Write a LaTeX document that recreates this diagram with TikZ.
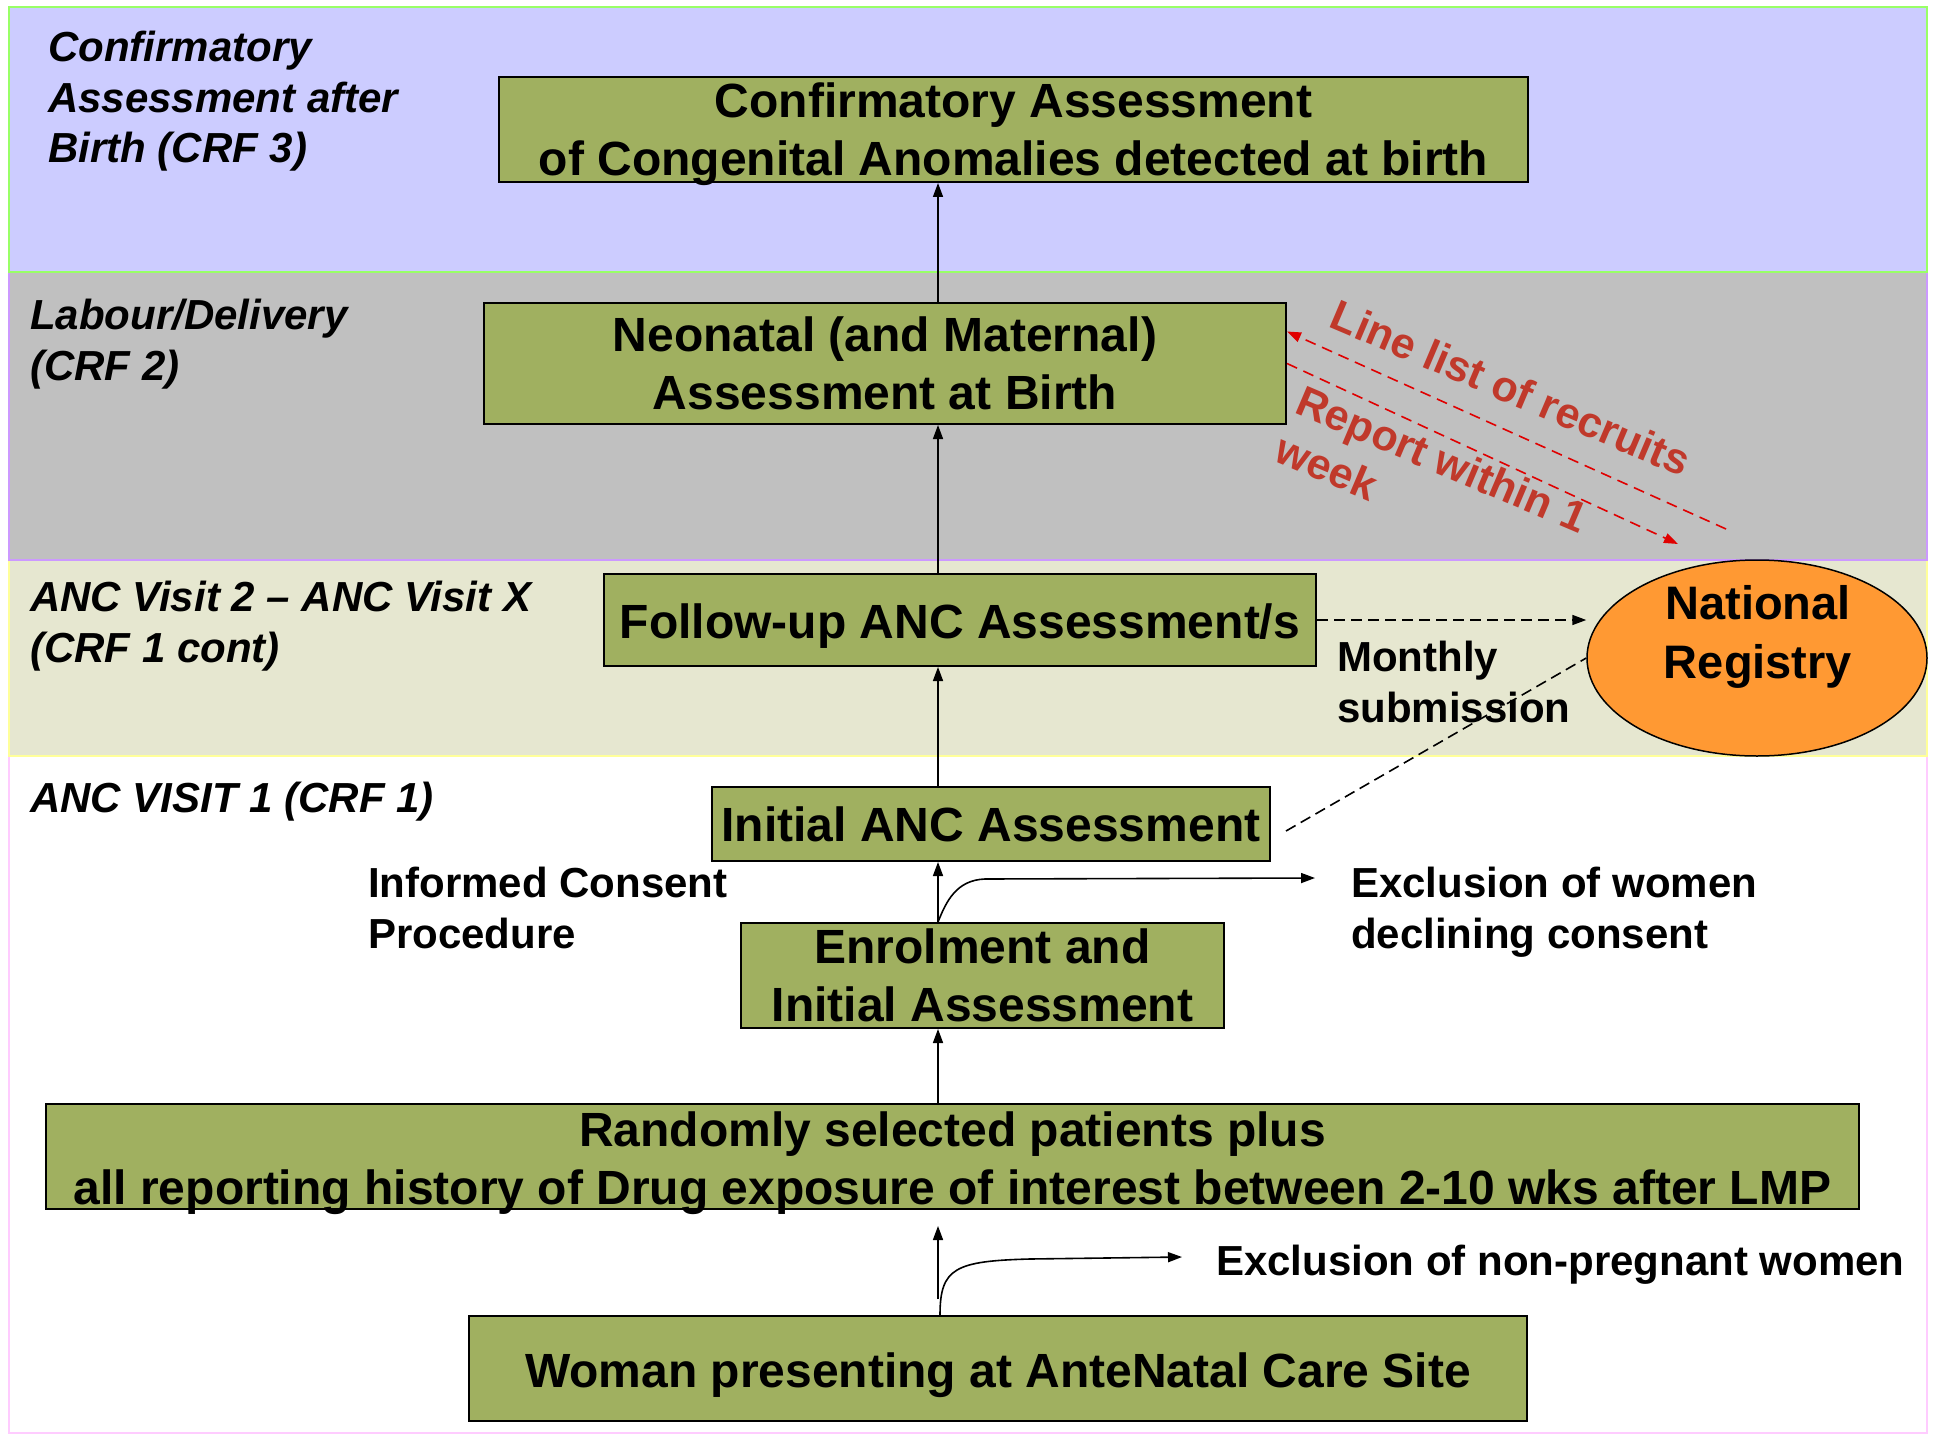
\documentclass[tikz,border=0pt]{standalone}
\usepackage{fontspec}
\setmainfont{Liberation Sans}
\usetikzlibrary{arrows.meta,shapes.geometric,calc}
\definecolor{lav}{HTML}{CCCCFF}
\definecolor{lavline}{HTML}{99FF66}
\definecolor{grayband}{HTML}{C0C0C0}
\definecolor{grayline}{HTML}{CC99FF}
\definecolor{khaki}{HTML}{E6E7D0}
\definecolor{khakiline}{HTML}{FFFF99}
\definecolor{pinkline}{HTML}{FFCCFF}
\definecolor{olive}{HTML}{A0B060}
\definecolor{orng}{HTML}{FF9933}
\definecolor{redtxt}{HTML}{C0392B}
\definecolor{redline}{HTML}{E00000}
\begin{document}
\begin{tikzpicture}[x=1pt,y=1pt,
  boxtext/.style={align=center, font=\fontsize{48}{58}\selectfont\bfseries, inner sep=0pt},
  box/.style={draw=black, line width=2pt, fill=olive, boxtext},
  lbl/.style={align=left, anchor=north west, inner sep=0pt,
    font=\fontsize{42}{50.6}\selectfont\bfseries\itshape},
  note/.style={align=left, anchor=north west, inner sep=0pt,
    font=\fontsize{42}{51}\selectfont\bfseries},
  arr/.style={line width=1.6pt, -{Triangle[length=14pt,width=10pt]}},
  dsh/.style={line width=1.6pt, dash pattern=on 11pt off 6pt},
  rdsh/.style={draw=redline, line width=1.6pt, dash pattern=on 11pt off 7pt},
  redlbl/.style={text=redtxt, font=\fontsize{43}{52}\selectfont\bfseries,
    inner sep=0pt, rotate=-23, align=left}]

\useasboundingbox (0,0) rectangle (1937,-1439);
\fill[white] (0,0) rectangle (1937,-1439);

% bands
\draw[pinkline, line width=1.5pt, fill=white] (9,-756) rectangle (1927,-1433);
\draw[khakiline, line width=1.5pt, fill=khaki] (9,-560) rectangle (1927,-756);
\draw[grayline, line width=1.5pt, fill=grayband] (9,-272) rectangle (1927,-560);
\draw[lavline, line width=2pt, fill=lav] (9,-7) rectangle (1927,-272);

% band labels
\node[lbl] (l3) at (48,-31) {Confirmatory\\Assessment after\\Birth (CRF 3)};
\node[lbl] (l2) at (30,-299) {Labour/Delivery\\(CRF 2)};
\node[lbl] (l1b) at (30,-581) {ANC Visit 2 – ANC Visit X\\(CRF 1 cont)};
\node[lbl] (l1) at (30,-782) {ANC VISIT 1 (CRF 1)};

% boxes
\node[box, minimum width=1029pt, minimum height=105pt,
  label={[name=conft, boxtext, yshift=-5pt]center:{Confirmatory Assessment\\of Congenital Anomalies detected at birth}}]
  (conf) at (1013.5,-129.5) {};
\node[box, minimum width=802pt, minimum height=121pt] (neo) at (885,-363.5)
  {Neonatal (and Maternal)\\Assessment at Birth};
\node[box, minimum width=712pt, minimum height=92pt, text height=47pt] (fu) at (960,-620)
  {Follow-up ANC Assessment/s};
\node[box, minimum width=558pt, minimum height=74pt] (init) at (991,-824)
  {Initial ANC Assessment};
\node[box, minimum width=483pt, minimum height=105pt] (enrol) at (982.5,-975.5)
  {Enrolment and\\Initial Assessment};
\node[box, minimum width=1813pt, minimum height=105pt,
  label={[name=randt, boxtext, yshift=-7pt]center:{Randomly selected patients plus\\all reporting history of Drug exposure of interest between 2-10 wks after LMP}}]
  (rand) at (952.5,-1156.5) {};
\node[box, minimum width=1058pt, minimum height=105pt, text height=48pt] (woman) at (998,-1368.5)
  {Woman presenting at AnteNatal Care Site};

% registry
\node[ellipse, draw=black, line width=1.5pt, fill=orng, minimum width=340pt,
  minimum height=196pt, inner sep=0pt] (reg) at (1757,-658) {};
\node[align=center, anchor=north, inner sep=0pt,
  font=\fontsize{47}{59}\selectfont\bfseries] (regt) at (1758,-585) {National\\Registry};

% side notes
\node[note] (ic) at (368,-867) {Informed Consent\\Procedure};
\node[note] (ms) at (1337,-641) {Monthly\\submission};
\node[note] (exw) at (1351,-867) {Exclusion of women\\declining consent};
\node[note] (exn) at (1216,-1245) {Exclusion of non-pregnant women};

% red labels
\node[redlbl] (llr) at (1511,-388) {Line list of recruits};
\node[redlbl] (rw1) at (1432,-483) {Report within 1\\week};

% vertical arrows
\coordinate (vx) at (938,0);
\draw[arr] (neo.north -| vx) -- (conf.south -| vx);
\draw[arr] (fu.north -| vx) -- (neo.south -| vx);
\draw[arr] (init.north -| vx) -- (fu.south -| vx);
\draw[arr] (enrol.north -| vx) -- (init.south -| vx);
\draw[arr] (rand.north -| vx) -- (enrol.south -| vx);
\draw[arr, shorten <=16pt, shorten >=16pt] (woman.north -| vx) -- (rand.south -| vx);

% exclusion curves
\coordinate (ex1) at (1182,-1257);
\draw[arr] ([xshift=2pt]woman.north -| vx) .. controls (940,-1268) and (955,-1261) .. (1030,-1259) -- (ex1);
\coordinate (ex2) at (1315,-878);
\draw[arr] (enrol.north -| vx) .. controls (946,-902) and (956,-880) .. (985,-879) -- (ex2);

% dashed connectors to registry
\draw[dsh, -{Triangle[length=14pt,width=10pt]}] (fu.east) -- (fu.east -| reg.west);
\draw[dsh] ([shift={(15pt,-7pt)}]init.east) -- (reg.west);

% red dashed arrows
\coordinate (llstart) at (1726,-529);
\draw[rdsh, -{Triangle[length=14pt,width=10pt]}] (llstart) -- ([yshift=32pt]neo.east);
\coordinate (rpend) at (1678,-544);
\draw[rdsh, -{Triangle[length=14pt,width=10pt]}] (neo.east) -- (rpend);

\end{tikzpicture}
\end{document}
